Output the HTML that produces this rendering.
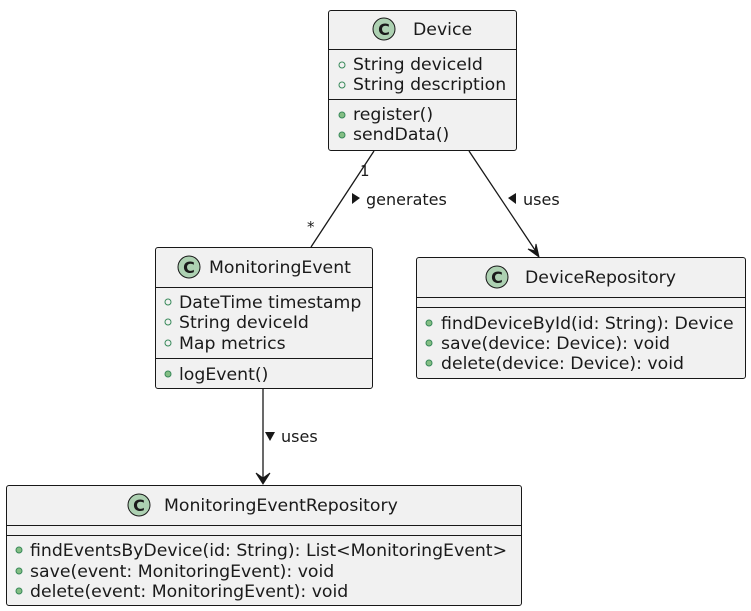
<!DOCTYPE html>
<html><head><meta charset="utf-8"><style>
html,body{margin:0;padding:0;background:#fff;}
svg{display:block;}
text{font-family:"DejaVu Sans","Liberation Sans",sans-serif;font-size:17.3px;fill:#1a1a1a;}
</style></head><body>
<svg width="751" height="611" viewBox="0 0 751 611" xmlns="http://www.w3.org/2000/svg">
<defs>
<g id="c"><circle r="11" fill="#add1b2" stroke="#181818" stroke-width="1"/><text x="0" y="6" text-anchor="middle" style="font-weight:bold;font-size:16px">C</text></g>
</defs>
<g stroke="#181818" stroke-width="1" fill="#f1f1f1">
<rect x="328.5" y="10.5" width="188" height="140" rx="2.5"/>
<rect x="155.5" y="247.5" width="217" height="141" rx="2.5"/>
<rect x="416.5" y="257.5" width="329" height="121" rx="2.5"/>
<rect x="6.5" y="485.5" width="515" height="120" rx="2.5"/>
</g>
<g stroke="#181818" stroke-width="1">
<line x1="328.5" y1="49.5" x2="516.5" y2="49.5"/><line x1="328.5" y1="99.5" x2="516.5" y2="99.5"/>
<line x1="155.5" y1="287.5" x2="372.5" y2="287.5"/><line x1="155.5" y1="358.5" x2="372.5" y2="358.5"/>
<line x1="416.5" y1="297.5" x2="745.5" y2="297.5"/><line x1="416.5" y1="307.5" x2="745.5" y2="307.5"/>
<line x1="6.5" y1="525.5" x2="521.5" y2="525.5"/><line x1="6.5" y1="535.5" x2="521.5" y2="535.5"/>
</g>
<g stroke="#181818" stroke-width="1.3" fill="none">
<line x1="374" y1="151" x2="311" y2="247"/>
<line x1="469" y1="151" x2="537" y2="253"/>
<line x1="263" y1="389" x2="263" y2="480"/>
</g>
<g fill="#181818" stroke="#181818" stroke-width="1">
<polygon points="539,257 528,249 535,251 536,244"/>
<polygon points="263,484 256,473 263,478 270,473"/>
</g>
<use href="#c" x="384" y="29"/><text x="413" y="35">Device</text>
<use href="#c" x="189" y="267"/><text x="209" y="273">MonitoringEvent</text>
<use href="#c" x="497" y="277"/><text x="525" y="283">DeviceRepository</text>
<use href="#c" x="139" y="505"/><text x="164" y="511">MonitoringEventRepository</text>
<g fill="none" stroke="#38895a" stroke-width="1">
<circle cx="342" cy="65" r="3"/><circle cx="342" cy="85" r="3"/>
<circle cx="168" cy="302" r="3"/><circle cx="168" cy="322" r="3"/><circle cx="168" cy="343" r="3"/>
</g>
<g fill="#84be84" stroke="#38895a" stroke-width="1">
<circle cx="342" cy="115" r="3"/><circle cx="342" cy="135" r="3"/>
<circle cx="168" cy="374" r="3"/>
<circle cx="429" cy="323" r="3"/><circle cx="429" cy="343" r="3"/><circle cx="429" cy="363" r="3"/>
<circle cx="19" cy="550" r="3"/><circle cx="19" cy="571" r="3"/><circle cx="19" cy="591" r="3"/>
</g>
<text x="353" y="70">String deviceId</text>
<text x="353" y="90">String description</text>
<text x="353" y="120">register()</text>
<text x="353" y="140">sendData()</text>
<text x="179" y="308">DateTime timestamp</text>
<text x="179" y="328">String deviceId</text>
<text x="179" y="349">Map metrics</text>
<text x="179" y="380">logEvent()</text>
<text x="441" y="329">findDeviceById(id: String): Device</text>
<text x="441" y="349">save(device: Device): void</text>
<text x="441" y="369">delete(device: Device): void</text>
<text x="30" y="556">findEventsByDevice(id: String): List&lt;MonitoringEvent&gt;</text>
<text x="30" y="577">save(event: MonitoringEvent): void</text>
<text x="30" y="597">delete(event: MonitoringEvent): void</text>
<text x="360" y="176" style="font-size:15px">1</text>
<text x="307" y="232" style="font-size:15px">*</text>
<polygon points="352,193 360,198 352,204" fill="#181818"/>
<text x="366" y="205" style="font-size:16px">generates</text>
<polygon points="516,193 508,198 516,204" fill="#181818"/>
<text x="523" y="205" style="font-size:16px">uses</text>
<polygon points="265,432 275,432 270,441" fill="#181818"/>
<text x="281" y="442" style="font-size:16px">uses</text>
</svg>
</body></html>
